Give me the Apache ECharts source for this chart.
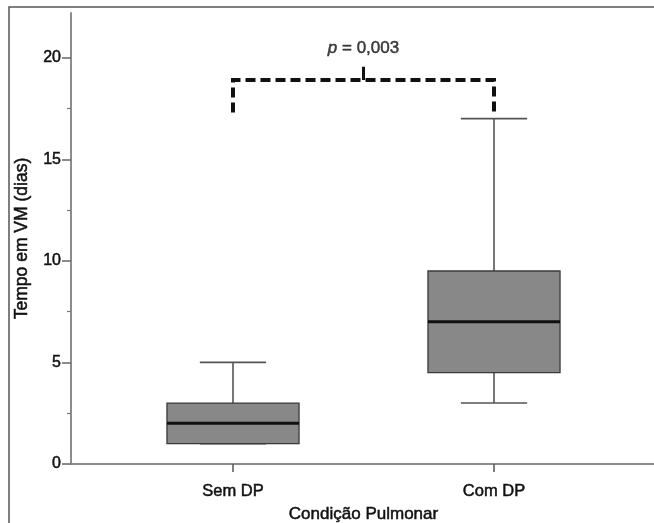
<!DOCTYPE html>
<html>
<head>
<meta charset="utf-8">
<script src="https://cdn.jsdelivr.net/npm/echarts@6/dist/echarts.min.js"></script>
<style>
  html, body { margin: 0; padding: 0; background: #fff; }
  #chart { width: 654px; height: 523px; }
</style>
</head>
<body>
<div id="chart"></div>
<script>
// dados do boxplot
const categories = ['Sem DP', 'Com DP']
const whiskerLow = [1, 3]
const q1 = [1, 4.5]
const medians = [2, 7]
const q3 = [3, 9.5]
const whiskerHigh = [5, 17]

// eixo y
const yTicks = [0, 5, 10, 15, 20]
const yMinorTicks = [2.5, 7.5, 12.5, 17.5]
const yMax = 22.2

// colchete de significancia
const bracketX = [0, 0, 1, 1]
const bracketY = [17.3, 18.9, 18.9, 17.3]
const sigTickX = [0.5, 0.5]
const sigTickY = [18.9, 19.55]
const pValueY = 20.45
const pValue = '0,003'

const font = 'Liberation Sans, Arial, sans-serif'
const axisGray = '#8c8c8c'
// deixa o texto um pouco mais grosso, como no original
const thick = { textBorderColor: '#111', textBorderWidth: 0.5 }

const boxData = categories.map((c, i) => [i, whiskerLow[i], q1[i], medians[i], q3[i], whiskerHigh[i]])

const renderBox = (params, api) => {
    const i = api.value(0)
    const band = api.size([1, 0])[0]
    const boxHalf = band * 0.253
    const capHalf = band * 0.127
    const pLow = api.coord([i, api.value(1)])
    const pQ1 = api.coord([i, api.value(2)])
    const pMed = api.coord([i, api.value(3)])
    const pQ3 = api.coord([i, api.value(4)])
    const pHigh = api.coord([i, api.value(5)])
    const x = pMed[0]
    const whisker = { stroke: '#555', lineWidth: 1.6 }
    return {
        type: 'group',
        children: [
            { type: 'line', shape: { x1: x, y1: pHigh[1], x2: x, y2: pQ3[1] }, style: whisker },
            { type: 'line', shape: { x1: x, y1: pQ1[1], x2: x, y2: pLow[1] }, style: whisker },
            { type: 'line', shape: { x1: x - capHalf, y1: pHigh[1], x2: x + capHalf, y2: pHigh[1] }, style: whisker },
            { type: 'line', shape: { x1: x - capHalf, y1: pLow[1], x2: x + capHalf, y2: pLow[1] }, style: whisker },
            { type: 'rect', shape: { x: x - boxHalf, y: pQ3[1], width: boxHalf * 2, height: pQ1[1] - pQ3[1] },
              style: { fill: '#888888', stroke: '#3a3a3a', lineWidth: 1.3 } },
            { type: 'line', shape: { x1: x - boxHalf, y1: pMed[1], x2: x + boxHalf, y2: pMed[1] },
              style: { stroke: '#111', lineWidth: 3 } }
        ]
    }
}

const chart = echarts.init(document.getElementById('chart'), null, { renderer: 'canvas' })

const option = {
    animation: false,
    textStyle: { fontFamily: font },
    graphic: [{
        type: 'rect', silent: true, z: -10,
        shape: { x: 9, y: 7, width: 800, height: 800 },
        style: { fill: 'none', stroke: '#555', lineWidth: 1.5 }
    }],
    grid: [
        { left: 71, right: 0, top: 13, bottom: 59, outerBoundsMode: 'none' },
        { left: 102.5, right: 29.5, top: 13, bottom: 59, outerBoundsMode: 'none' }
    ],
    xAxis: [
        {
            gridIndex: 0, type: 'value', min: 0, max: 1,
            axisLine: { show: true, onZero: false, lineStyle: { color: axisGray, width: 2 } },
            axisTick: { show: false }, axisLabel: { show: false }, splitLine: { show: false }
        },
        {
            gridIndex: 1, type: 'category', data: categories,
            axisLine: { show: false },
            axisTick: { show: true, alignWithLabel: true, length: 8, lineStyle: { color: '#555', width: 1.5 } },
            axisLabel: { fontSize: 16.5, color: '#111', margin: 19, fontFamily: font, ...thick },
            name: 'Condição Pulmonar', nameLocation: 'middle', nameGap: 39,
            nameTextStyle: { fontSize: 17, color: '#111', fontFamily: font, ...thick }
        },
        {
            gridIndex: 1, type: 'value', min: -0.5, max: 1.5, show: false
        }
    ],
    yAxis: [
        {
            gridIndex: 0, type: 'value', min: 0, max: yMax,
            axisLine: { show: true, onZero: false, lineStyle: { color: axisGray, width: 2 } },
            axisTick: { show: true, length: 9, customValues: yTicks, lineStyle: { color: '#666', width: 1.5 } },
            axisLabel: { customValues: yTicks, fontSize: 16, color: '#111', margin: 10, fontFamily: font, ...thick },
            splitLine: { show: false },
            name: 'Tempo em VM (dias)', nameLocation: 'middle', nameRotate: 90, nameGap: 40,
            nameTextStyle: { fontSize: 17.5, color: '#111', fontFamily: font, ...thick }
        },
        {
            gridIndex: 1, type: 'value', min: 0, max: yMax, offset: 31.5,
            axisLine: { show: false, onZero: false },
            axisTick: { show: true, length: 4, customValues: yMinorTicks, lineStyle: { color: '#777', width: 1.2 } },
            axisLabel: { show: false }, splitLine: { show: false }
        }
    ],
    series: [
        {
            type: 'custom', xAxisIndex: 1, yAxisIndex: 1,
            renderItem: renderBox,
            encode: { x: 0, y: [1, 2, 3, 4, 5] },
            data: boxData, silent: true
        },
        {
            type: 'line', xAxisIndex: 2, yAxisIndex: 1, symbol: 'none', silent: true,
            data: bracketX.map((x, i) => [x, bracketY[i]]),
            lineStyle: { color: '#111', width: 4, type: [10, 5], cap: 'butt', join: 'miter' }
        },
        {
            type: 'line', xAxisIndex: 2, yAxisIndex: 1, symbol: 'none', silent: true,
            data: sigTickX.map((x, i) => [x, sigTickY[i]]),
            lineStyle: { color: '#111', width: 3, type: 'solid', cap: 'butt' }
        },
        {
            type: 'scatter', xAxisIndex: 2, yAxisIndex: 1, silent: true,
            symbolSize: 1, itemStyle: { color: 'rgba(0,0,0,0)' },
            data: [[sigTickX[0], pValueY]],
            label: {
                show: true, position: 'inside',
                formatter: `{i|p} = ${pValue}`,
                fontSize: 17, color: '#111', fontFamily: font, ...thick,
                rich: { i: { fontStyle: 'italic', fontSize: 17, color: '#111', fontFamily: font, ...thick } }
            }
        }
    ]
}

chart.setOption(option)
</script>
</body>
</html>
